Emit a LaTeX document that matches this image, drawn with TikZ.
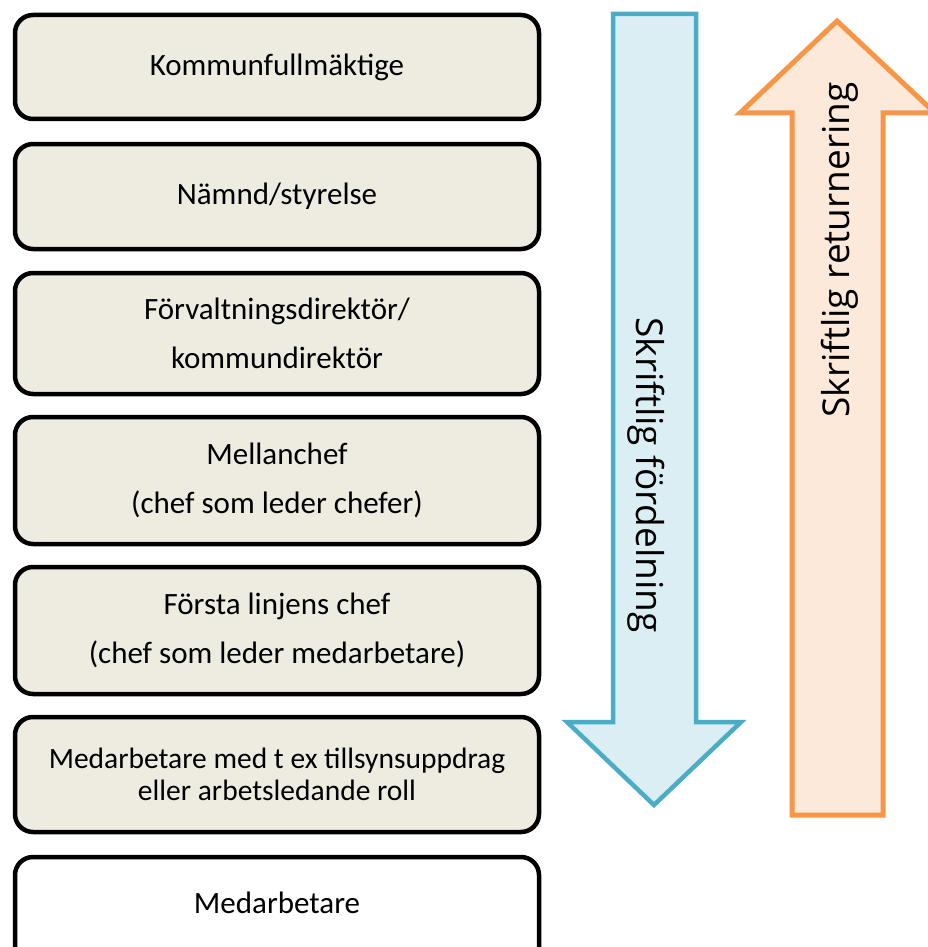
\documentclass[tikz,border=0pt]{standalone}
\usepackage{fontspec}
\setmainfont{Carlito}
\newfontfamily\arrowfont{Open Sans}
\usepackage{tikz}
\usetikzlibrary{positioning}

\definecolor{boxfill}{HTML}{EEECE1}
\definecolor{downfill}{HTML}{DAEEF3}
\definecolor{downline}{HTML}{4BACC6}
\definecolor{upfill}{HTML}{FDE9D9}
\definecolor{upline}{HTML}{F79646}

\tikzset{
  levelbox/.style={draw=black, line width=4.5pt, rounded corners=18pt,
    fill=boxfill, minimum width=524pt, inner sep=0pt, align=center,
    font=\fontsize{31}{49}\selectfont},
  arrowlabel/.style={font=\arrowfont\fontsize{37}{40}\selectfont, inner sep=0pt}
}

\begin{document}
\begin{tikzpicture}[x=1pt, y=-1pt]

		\useasboundingbox (0,0) rectangle (927,947);

		% levels
		\node[levelbox, minimum height=104pt] (kf) at (277,67) {Kommunfullmäktige};
		\node[levelbox, minimum height=105pt] (nmd) at (277,196.5) {Nämnd/styrelse};
		\node[levelbox, minimum height=121pt] (dir) at (277,333.5) {Förvaltningsdirektör/\\kommundirektör};
		\node[levelbox, minimum height=127pt] (mch) at (277,480.5) {Mellanchef\\(chef som leder chefer)};
		\node[levelbox, minimum height=127pt] (flc) at (277,630.5) {Första linjens chef\\(chef som leder medarbetare)};
		\node[levelbox, minimum height=115pt, font=\fontsize{29.5}{32}\selectfont] (arb) at (277,774.5) {Medarbetare med t ex tillsynsuppdrag\\eller arbetsledande roll};
		\node[levelbox, minimum height=113pt, fill=white] (med) at (277,913.5) {};
		\node[font=\fontsize{31}{49}\selectfont, inner sep=0pt] (medtext) at (277,903) {Medarbetare};

		% down arrow
		\draw[line width=4.5pt, draw=downline, fill=downfill, line join=miter]
			(613,14) -- (696,14) -- (696,722) -- (741,722) -- (654,805)
			-- (567,722) -- (613,722) -- cycle;
		\node[arrowlabel, rotate=-90] (down) at (646,475) {Skriftlig fördelning};

		% up arrow
		\draw[line width=5pt, draw=upline, fill=upfill, line join=miter]
			(792,815) -- (883,815) -- (883,113) -- (935,113) -- (837,21)
			-- (740,113) -- (792,113) -- cycle;
		\node[arrowlabel, rotate=90] (up) at (840,250) {Skriftlig returnering};

	\end{tikzpicture}
\end{document}
